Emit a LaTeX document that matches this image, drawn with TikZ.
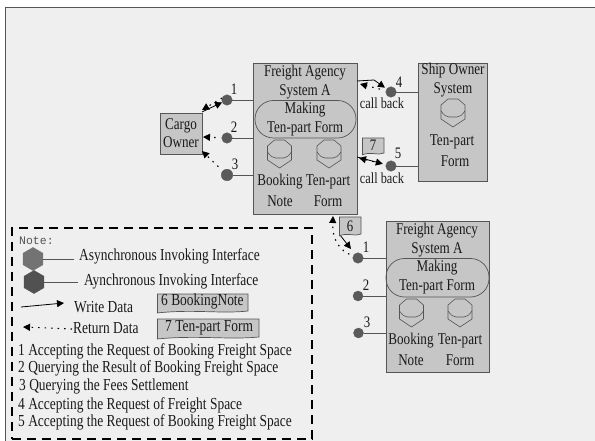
\documentclass[tikz,border=0pt]{standalone}
\usepackage{fontspec}
\setmainfont[FakeStretch=0.8]{Liberation Serif}
\newfontfamily\notefont{Liberation Mono}
\usetikzlibrary{arrows.meta,shapes.geometric}
\definecolor{bgc}{HTML}{EFEFEF}
\definecolor{boxc}{HTML}{C6C6C6}
\definecolor{edgec}{HTML}{555555}
\definecolor{ifc}{HTML}{5A5A5A}
\definecolor{txt}{HTML}{1A1A1A}
\tikzset{
 sysbox/.style={draw=edgec,line width=0.9bp,fill=boxc},
 iface/.style={circle,fill=ifc,draw=ifc,inner sep=0pt,minimum size=10.5bp},
 ifaceleg/.style={regular polygon,regular polygon sides=6,shape border rotate=90,fill=ifc,draw=ifc,inner sep=0pt,minimum size=23bp},
 lbl/.style={inner sep=0pt,text=txt,font=\fontsize{16.4bp}{18bp}\selectfont,align=center},
 cb/.style={inner sep=0pt,text=txt,font=\fontsize{15.4bp}{17bp}\selectfont},
 num/.style={inner sep=0pt,text=txt,font=\fontsize{16bp}{17bp}\selectfont},
 legtxt/.style={inner sep=0pt,anchor=west,text=txt,font=\fontsize{16.8bp}{18bp}\selectfont},
 wire/.style={draw=edgec,line width=0.9bp},
 store/.style={draw=edgec,line width=0.6bp,fill=boxc},
 wr/.style={-{Triangle[length=7bp,width=7bp]},line width=0.8bp,black},
 rd/.style={-{Triangle[length=7bp,width=7bp]},line width=1.1bp,black,dash pattern=on 1.5bp off 5bp},
 pill/.style={draw=edgec,line width=0.7bp,rounded corners=18.5bp},
 flag/.style={draw=edgec,line width=0.7bp,fill=boxc},
}
\newcommand{\cyl}[2]{%
 \begin{scope}[shift={(#1,#2)}]
 \draw[store] (-12,-8)--(-5,-14)--(5,-14)--(12,-8)--(12,6)--(0,14)--(-12,6)--cycle;
 \draw[store,fill=none] (-12,-2) .. controls (-9,2) and (-7,4) .. (-4,4) -- (4,4) .. controls (7,4) and (9,2) .. (12,-2);
 \end{scope}}
\newcommand{\flagshape}[4]{%
 \draw[flag] (#1,#2)--(#3,#2)--(#3,{#4-2}) .. controls ({#1*0.3+#3*0.7},{#4+1}) and ({#1*0.6+#3*0.4},{#4-4}) .. (#1,{#4});
 \draw[flag] (#1,#2)--(#1,{#4});}
\begin{document}
\begin{tikzpicture}[x=1bp,y=-1bp]
\useasboundingbox (0,0) rectangle (595,441);
\fill[white] (0,0) rectangle (595,441);
\fill[bgc] (5.5,8) rectangle (595,441);
\draw[edgec,line width=1bp] (5.5,441)--(5.5,8)--(595,8);

% system boxes
\node[sysbox,minimum width=104bp,minimum height=151bp,inner sep=0pt] (sysA) at (305,138.5) {};
\node[sysbox,minimum width=69bp,minimum height=118bp,inner sep=0pt] (ship) at (452.5,122) {};
\node[sysbox,minimum width=103bp,minimum height=151bp,inner sep=0pt] (sysB) at (437.5,296.5) {};
\node[sysbox,minimum width=42bp,minimum height=41bp,inner sep=0pt,lbl] (cargo) at (181,133.5) {Cargo\\Owner};

% interfaces
\node[iface] (a1) at (227,100) {};
\node[iface] (a2) at (227,138) {};
\node[iface,minimum size=11.5bp] (a3) at (227,175) {};
\node[iface] (s4) at (391,92) {};
\node[iface] (s5) at (391,166) {};
\node[iface] (b1) at (358,258) {};
\node[iface,minimum size=10bp] (b2) at (358,296) {};
\node[iface,minimum size=10bp] (b3) at (358.5,333) {};
\foreach \i/\b in {a1/sysA,a2/sysA,a3/sysA,b1/sysB,b2/sysB,b3/sysB}{\draw[wire] (\i) -- (\i -| \b.west);}
\foreach \i in {s4,s5}{\draw[wire] (\i) -- (\i -| ship.west);}

% numbers
\node[num] at (234,89) {1};
\node[num] at (234,127) {2};
\node[num] at (235,164) {3};
\node[num] at (399,82) {4};
\node[num] at (398,153) {5};
\node[num] at (366,247) {1};
\node[num] at (366,285) {2};
\node[num] at (367,322) {3};

% system A contents
\node[lbl] at (305,73) {Freight Agency};
\node[lbl] at (305,92) {System A};
\draw[pill] (255,100.5) rectangle (356,138);
\node[lbl] at (305,110) {Making};
\node[lbl] at (305,129) {Ten-part Form};
\cyl{279.5}{154}
\cyl{329}{154}
\node[lbl] at (280,182) {Booking};
\node[lbl] at (280,201) {Note};
\node[lbl] at (328,182) {Ten-part};
\node[lbl] at (328,201) {Form};

% ship owner
\node[lbl] at (453,71) {Ship Owner};
\node[lbl] at (453,90) {System};
\cyl{453}{113}
\node[lbl] at (452,142) {Ten-part};
\node[lbl] at (455,161) {Form};

% system B
\node[lbl] at (437,231) {Freight Agency};
\node[lbl] at (437,250) {System A};
\draw[pill] (386,258.5) rectangle (489,297);
\node[lbl] at (437,268) {Making};
\node[lbl] at (437,287) {Ten-part Form};
\cyl{411.5}{313}
\cyl{460}{313}
\node[lbl] at (411,341) {Booking};
\node[lbl] at (411,360) {Note};
\node[lbl] at (460,341) {Ten-part};
\node[lbl] at (460,360) {Form};

% connectors
\coordinate (c1) at (202,112);
\coordinate (c1r) at (202,110);
\coordinate (a1r) at (222,98);
\coordinate (c2) at (203,137);
\coordinate (c3) at (202,151);
\draw[wr] (c1) -- (a1);
\draw[rd] (a1r) -- (c1r);
\draw[rd,shorten <=6bp] (a2) -- (c2);
\draw[rd,shorten <=6bp] (a3) -- (c3);
\coordinate (a4) at (357,81);
\coordinate (a5) at (357,157);
\coordinate (a4r) at (360,84);
\coordinate (a5r) at (359,158);
\draw[wr,shorten >=2bp] (a4) -- (374,80) -- (s4);
\draw[rd,shorten <=6bp] (s4) -- (a4r);
\draw[wr,shorten >=3bp] (a5) -- (s5);
\draw[rd,shorten <=6bp] (s5) -- (a5r);
\coordinate (a6) at (333,216);
\coordinate (f6) at (340,235);
\draw[wr,shorten >=6bp] (f6) -- (b1);
\draw[rd,shorten <=4bp] (b1) .. controls (342,251) and (332,242) .. (a6);

% call back
\node[cb] at (382,103) {call back};
\node[cb] at (382,178) {call back};

% flags
\flagshape{362}{138}{384}{155}
\node[num] at (373,145.5) {7};
\flagshape{339}{217}{361}{236}
\node[num] at (350,226) {6};

% legend
\node[draw=black,line width=2.6bp,dash pattern=on 9bp off 6bp,minimum width=300bp,minimum height=211bp,inner sep=0pt] (legend) at (162,333.5) {};
\node[legtxt,text=edgec,font=\notefont\fontsize{11.5bp}{13bp}\selectfont] at (19,241) {Note:};
\node[ifaceleg,fill=ifc!85!white,draw=ifc!85!white] (l1) at (33,259) {};
\node[ifaceleg,fill=ifc!90!black,draw=ifc!90!black] (l2) at (34,282) {};
\coordinate (l1e) at (74,259);
\coordinate (l2e) at (78,282);
\draw[wire] (l1) -- (l1e);
\draw[wire] (l2) -- (l2e);
\node[legtxt] at (79,256) {Asynchronous Invoking Interface};
\node[legtxt] at (84,281) {Aynchronous Invoking Interface};
\coordinate (w0) at (21,307); \coordinate (w1) at (64,303);
\draw[wr] (w0) -- (w1);
\node[legtxt] at (74,307) {Write Data};
\coordinate (r0) at (72,329); \coordinate (r1) at (23,327);
\draw[rd] (r0) -- (r1);
\node[legtxt] at (73,328) {Return Data};
\flagshape{157}{294}{248}{313}
\node[legtxt] at (161,301.5) {6 BookingNote};
\flagshape{157}{319}{259}{339}
\node[legtxt] at (165,328) {7 Ten-part Form};
\node[legtxt] at (18,351) {1 Accepting the Request of Booking Freight Space};
\node[legtxt] at (18,368) {2 Querying the Result of Booking Freight Space};
\node[legtxt] at (19,386) {3 Querying the Fees Settlement};
\node[legtxt] at (18,405) {4 Accepting the Request of Freight Space};
\node[legtxt] at (18,422) {5 Accepting the Request of Booking Freight Space};
\end{tikzpicture}
\end{document}
